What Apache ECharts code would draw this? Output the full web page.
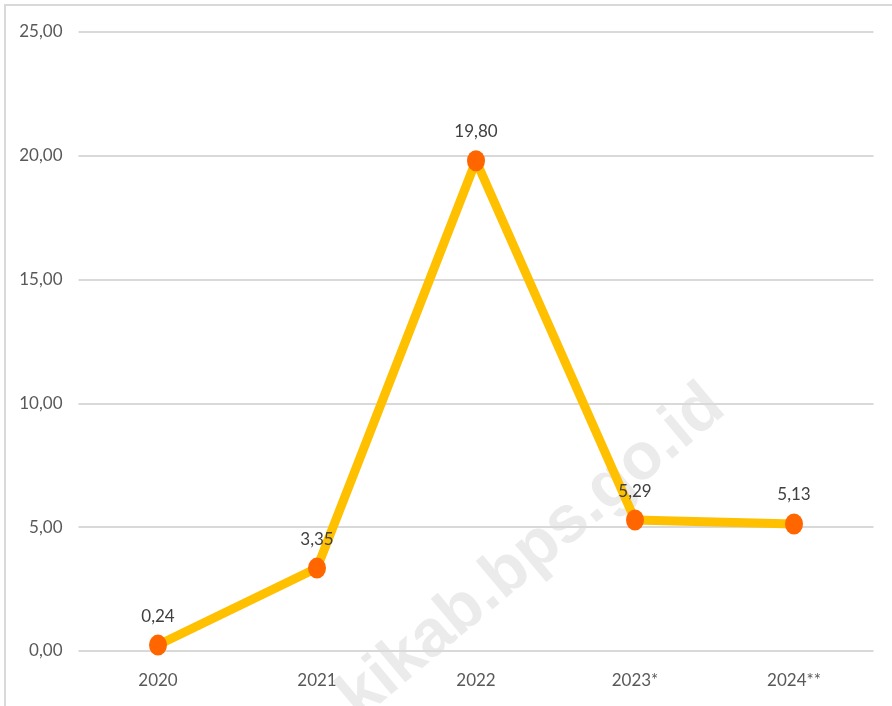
<!DOCTYPE html>
<html>
<head>
<meta charset="utf-8">
<script src="https://cdn.jsdelivr.net/npm/echarts@6/dist/echarts.min.js"></script>
<style>
  * { margin: 0; padding: 0; }
  html, body { width: 892px; height: 706px; background: #fff; }
  #main { width: 892px; height: 706px; }
</style>
</head>
<body>
<div id="main"></div>
<script>
// data
var years = ['2020', '2021', '2022', '2023*', '2024**'];
var values = [0.24, 3.35, 19.80, 5.29, 5.13];
var yTicks = [0, 5, 10, 15, 20, 25];

var fontName = 'Lato, sans-serif';
function fmt(v) { return Number(v).toFixed(2).replace('.', ','); }

var chart = echarts.init(document.getElementById('main'));
chart.setOption({
  backgroundColor: '#fff',
  animation: false,
  graphic: [
    { // frame on top and left
      type: 'rect', z: 0, silent: true,
      shape: { x: 5, y: 5, width: 1000, height: 1000 },
      style: { fill: 'none', stroke: '#d9d9d9', lineWidth: 2 }
    },
    { // watermark
      type: 'text', z: 0, silent: true,
      x: 716, y: 398, rotation: 40 * Math.PI / 180,
      style: {
        text: 'kikab.bps.go.id',
        font: 'bold 66px "Liberation Sans", sans-serif',
        fill: '#ebebeb', align: 'right', verticalAlign: 'middle'
      }
    }
  ],
  grid: { left: 78.5, right: 18.5, top: 32, bottom: 55, containLabel: false },
  xAxis: {
    type: 'category',
    data: years,
    boundaryGap: true,
    axisLine: { show: false },
    axisTick: { show: false },
    axisLabel: { margin: 21, fontFamily: fontName, fontSize: 17, color: '#595959' }
  },
  yAxis: {
    type: 'value',
    min: yTicks[0],
    max: yTicks[yTicks.length - 1],
    interval: 5,
    axisLine: { show: false },
    axisTick: { show: false },
    splitLine: { lineStyle: { color: '#d9d9d9', width: 2 } },
    axisLabel: { margin: 16, fontFamily: fontName, fontSize: 17, color: '#595959', formatter: fmt }
  },
  series: [{
    type: 'line',
    data: values,
    z: 3,
    symbol: 'circle',
    symbolSize: [18, 21],
    lineStyle: { color: '#FFC000', width: 9 },
    itemStyle: { color: '#FF6600' },
    label: {
      show: true, position: 'top', distance: 10,
      fontFamily: fontName, fontSize: 17, color: '#404040',
      formatter: function (p) { return fmt(p.value); }
    }
  }]
});
</script>
</body>
</html>
